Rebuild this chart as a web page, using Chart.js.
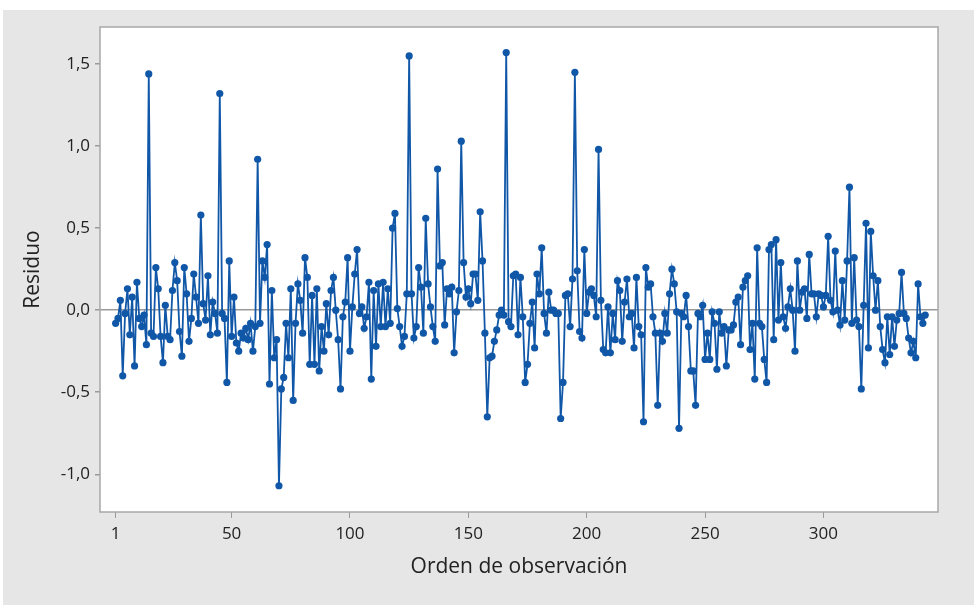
<!DOCTYPE html>
<html>
<head>
<meta charset="utf-8">
<script src="https://cdn.jsdelivr.net/npm/chart.js@4.4.1/dist/chart.umd.min.js"></script>
<style>
  html, body { margin: 0; padding: 0; background: #fff; }
  #wrap { position: absolute; left: 3px; top: 10px; width: 971px; height: 595px; background: #e6e6e6; }
</style>
</head>
<body>
<div id="wrap"><canvas id="ResidChart" width="971" height="595"></canvas></div>
<script>
// residuos por orden de observacion (1..343)
const residuos = [
  -0.08, -0.05, 0.06, -0.40, -0.02, 0.13, -0.15, 0.08, -0.34, 0.17,
  -0.05, -0.10, -0.03, -0.21, 1.44, -0.14, -0.16, 0.26, 0.13, -0.16,
  -0.32, 0.03, -0.16, -0.18, 0.12, 0.29, 0.18, -0.13, -0.28, 0.26,
  0.10, -0.19, -0.05, 0.22, 0.08, -0.08, 0.58, 0.04, -0.06, 0.21,
  -0.15, 0.05, -0.02, -0.14, 1.32, -0.02, -0.05, -0.44, 0.30, -0.16,
  0.08, -0.20, -0.25, -0.14, -0.17, -0.11, -0.18, -0.08, -0.25, -0.10,
  0.92, -0.08, 0.30, 0.20, 0.40, -0.45, 0.12, -0.29, -0.18, -1.07,
  -0.48, -0.41, -0.08, -0.29, 0.13, -0.55, -0.08, 0.16, 0.06, -0.14,
  0.32, 0.20, -0.33, 0.09, -0.33, 0.13, -0.37, -0.10, -0.25, 0.04,
  -0.15, 0.12, 0.20, 0.00, -0.18, -0.48, -0.04, 0.05, 0.32, -0.25,
  0.02, 0.22, 0.37, -0.02, 0.02, -0.11, -0.04, 0.17, -0.42, 0.12,
  -0.22, 0.16, -0.10, 0.17, -0.10, 0.13, -0.08, 0.50, 0.59, 0.01,
  -0.10, -0.22, -0.16, 0.10, 1.55, 0.10, -0.17, -0.10, 0.26, 0.14,
  -0.14, 0.56, 0.16, 0.02, -0.10, -0.19, 0.86, 0.27, 0.29, -0.09,
  0.13, 0.10, 0.14, -0.26, -0.01, 0.12, 1.03, 0.29, 0.08, 0.13,
  0.04, 0.22, 0.22, 0.06, 0.60, 0.30, -0.14, -0.65, -0.29, -0.28,
  -0.19, -0.12, -0.03, 0.00, -0.03, 1.57, -0.07, -0.10, 0.21, 0.22,
  -0.15, 0.20, -0.04, -0.44, -0.33, -0.08, 0.05, -0.23, 0.22, 0.10,
  0.38, -0.02, -0.14, 0.11, 0.00, 0.00, -0.02, -0.02, -0.66, -0.44,
  0.09, 0.10, -0.10, 0.19, 1.45, 0.24, -0.13, -0.17, 0.37, -0.02,
  0.11, 0.13, 0.09, -0.04, 0.98, 0.06, -0.24, -0.26, 0.02, -0.26,
  -0.02, -0.18, 0.18, 0.12, -0.19, 0.05, 0.19, -0.04, -0.02, -0.23,
  0.20, -0.10, -0.15, -0.68, 0.26, 0.14, 0.16, -0.04, -0.14, -0.58,
  -0.14, -0.19, -0.02, -0.14, 0.10, 0.25, 0.16, -0.01, -0.72, -0.02,
  -0.04, 0.09, -0.10, -0.37, -0.37, -0.58, -0.02, -0.04, 0.03, -0.30,
  -0.14, -0.30, -0.01, -0.08, -0.36, -0.01, -0.14, -0.10, -0.34, -0.12,
  -0.12, -0.09, 0.05, 0.08, -0.21, 0.14, 0.18, 0.21, -0.24, -0.08,
  -0.42, 0.38, -0.08, -0.10, -0.30, -0.44, 0.37, 0.40, -0.18, 0.43,
  -0.06, 0.29, -0.04, -0.11, 0.02, 0.13, 0.00, -0.25, 0.30, 0.00,
  0.11, 0.13, -0.05, 0.34, 0.10, 0.10, -0.04, 0.10, 0.09, 0.02,
  0.09, 0.45, 0.06, -0.01, 0.36, 0.00, -0.09, 0.18, -0.06, 0.30,
  0.75, -0.08, 0.32, -0.06, -0.10, -0.48, 0.03, 0.53, -0.23, 0.48,
  0.21, 0.00, 0.18, -0.10, -0.24, -0.32, -0.04, -0.27, -0.04, -0.22,
  -0.06, -0.02, 0.23, -0.02, -0.05, -0.17, -0.26, -0.19, -0.29, 0.16,
  -0.04, -0.08, -0.03
];
const xTicks = [1, 50, 100, 150, 200, 250, 300];
const yTicks = [-1.0, -0.5, 0.0, 0.5, 1.0, 1.5];

const puntos = residuos.map((v, i) => ({x: i + 1, y: v}));

const blue = '#1157a8';

// fondo blanco del area de trazado + marco gris
const marco = {
    id: 'marco',
    beforeDraw(chart) {
        const {ctx, chartArea: a} = chart;
        ctx.save();
        ctx.fillStyle = '#ffffff';
        ctx.fillRect(a.left, a.top, a.right - a.left, a.bottom - a.top);
        ctx.restore();
    },
    afterDraw(chart) {
        const {ctx, chartArea: a} = chart;
        ctx.save();
        ctx.strokeStyle = '#a8a8a8';
        ctx.lineWidth = 1.5;
        ctx.strokeRect(a.left, a.top, a.right - a.left, a.bottom - a.top);
        ctx.restore();
    }
};

const config = {
    type: 'line',
    data: {
        datasets: [{
            label: 'Residuo',
            data: puntos,
            borderColor: blue,
            backgroundColor: blue,
            borderWidth: 1.8,
            pointRadius: 3.6,
            pointBorderWidth: 0,
            pointBackgroundColor: blue,
            tension: 0
        }]
    },
    options: {
        responsive: false,
        animation: false,
        devicePixelRatio: 1,
        layout: {
            padding: {left: 0, top: 17, right: 36, bottom: 0}
        },
        scales: {
            x: {
                type: 'linear',
                min: -5.6,
                max: 348.4,
                afterBuildTicks: (scale) => { scale.ticks = xTicks.map(v => ({value: v})); },
                afterFit: (scale) => { scale.height = 93; },
                grid: {
                    drawOnChartArea: false,
                    drawTicks: true,
                    tickLength: 6,
                    tickColor: '#9a9a9a'
                },
                border: {display: false},
                ticks: {
                    color: '#222',
                    padding: 6,
                    maxRotation: 0,
                    font: {family: 'Open Sans', size: 17}
                },
                title: {
                    display: true,
                    text: 'Orden de observación',
                    color: '#222',
                    padding: {top: 0, bottom: 25},
                    font: {family: 'Open Sans', size: 21}
                }
            },
            y: {
                min: -1.23,
                max: 1.726,
                afterBuildTicks: (scale) => { scale.ticks = yTicks.map(v => ({value: v})); },
                afterFit: (scale) => { scale.width = 97; },
                grid: {
                    color: (c) => (c.tick && c.tick.value === 0) ? '#9a9a9a' : 'rgba(0,0,0,0)',
                    lineWidth: 1.5,
                    drawTicks: true,
                    tickLength: 5,
                    tickColor: '#9a9a9a'
                },
                border: {display: false},
                ticks: {
                    color: '#222',
                    padding: 5,
                    font: {family: 'Open Sans', size: 17},
                    callback: (v) => v.toFixed(1).replace('.', ',')
                },
                title: {
                    display: true,
                    text: 'Residuo',
                    color: '#222',
                    padding: {top: 17, bottom: 0},
                    font: {family: 'Open Sans', size: 21}
                }
            }
        },
        plugins: {
            legend: {display: false},
            title: {display: false},
            tooltip: {enabled: false}
        }
    },
    plugins: [marco]
};

new Chart(document.getElementById('ResidChart'), config);
</script>
</body>
</html>
